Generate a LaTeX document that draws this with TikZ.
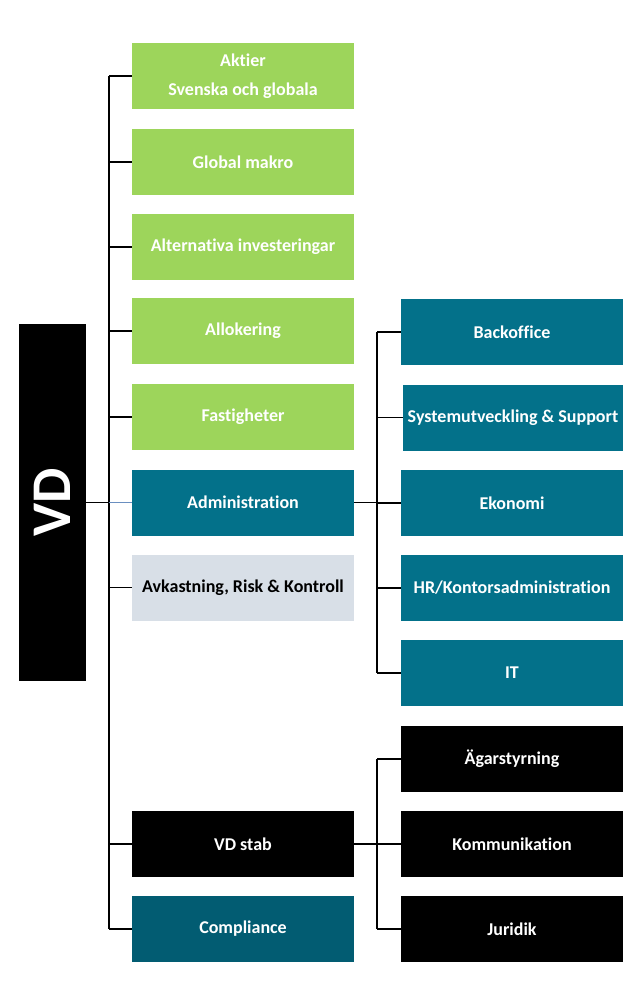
\documentclass[tikz,border=0pt]{standalone}
\usepackage{fontspec}
\setmainfont{Carlito}[Ligatures=NoCommon]
\usetikzlibrary{calc}

\definecolor{orggreen}{HTML}{9DD55B}
\definecolor{orgteal}{HTML}{03718A}
\definecolor{orgdark}{HTML}{025C72}
\definecolor{orggray}{HTML}{D8DFE7}
\definecolor{orgblue}{HTML}{6A8FC0}

\begin{document}
\begin{tikzpicture}[x=1pt,y=-1pt,box/.style={minimum width=222pt,minimum height=66pt,inner sep=0pt,font=\fontsize{18}{29}\selectfont\bfseries,text=white,align=center},green/.style={box,fill=orggreen},teal/.style={box,fill=orgteal},dark/.style={box,fill=orgdark},grey/.style={box,fill=orggray,text=black},black/.style={box,fill=black},conn/.style={line width=1.6pt},blueconn/.style={line width=1.4pt,orgblue}]
\useasboundingbox (0,0) rectangle (625,986);
% ledning
\node[fill=black,rotate=90,minimum width=357pt,minimum height=67pt,inner sep=0pt,text=white,font=\fontsize{56}{60}\selectfont\bfseries] (vd) at (52.5,502.5) {VD};
% vänster kolumn
\node[green] (aktier) at (243,76) {Aktier\\Svenska och globala}; \node[green] (makro) at (243,162) {Global makro};
\node[green] (alternativa) at (243,247) {Alternativa investeringar}; \node[green] (allokering) at (243,331) {Allokering};
\node[green] (fastigheter) at (243,417) {Fastigheter}; \node[teal] (admin) at (243,502.5) {Administration};
\node[grey] (avkastning) at (243,587.5) {Avkastning, Risk \& Kontroll}; \node[black] (stab) at (243,844) {VD stab};
\node[dark] (compliance) at (243,929) {Compliance};
% höger kolumn
\node[teal] (backoffice) at (512,332) {Backoffice}; \node[teal,minimum width=220pt] (system) at (513,417.5) {Systemutveckling \& Support};
\node[teal] (ekonomi) at (512,503) {Ekonomi}; \node[teal] (hr) at (512,588) {HR/Kontorsadministration};
\node[teal] (it) at (512,673) {IT};
\node[black] (agar) at (512,759) {Ägarstyrning}; \node[black] (komm) at (512,844) {Kommunikation};
\node[black] (juridik) at (512,929) {Juridik};
% linjer
\coordinate (trunk) at (109,0); \coordinate (subtrunk) at (377,0);
\draw[conn] (aktier.west -| trunk) -- (compliance.west -| trunk);
\foreach \n in {aktier,makro,alternativa,allokering,fastigheter,avkastning,stab,compliance} \draw[conn] (\n.west -| trunk) -- (\n.west);
\draw[conn] (vd.south) -- (admin.west -| trunk); \draw[blueconn] (admin.west -| trunk) -- (admin.west);
\draw[conn] (backoffice.west -| subtrunk) -- (it.west -| subtrunk); \draw[conn] (admin.east) -- (admin.east -| subtrunk);
\foreach \n in {backoffice,system,ekonomi,hr,it} \draw[conn] (\n.west -| subtrunk) -- (\n.west);
\draw[conn] (agar.west -| subtrunk) -- (juridik.west -| subtrunk); \draw[conn] (stab.east) -- (stab.east -| subtrunk);
\foreach \n in {agar,komm,juridik} \draw[conn] (\n.west -| subtrunk) -- (\n.west);
\end{tikzpicture}
\end{document}
